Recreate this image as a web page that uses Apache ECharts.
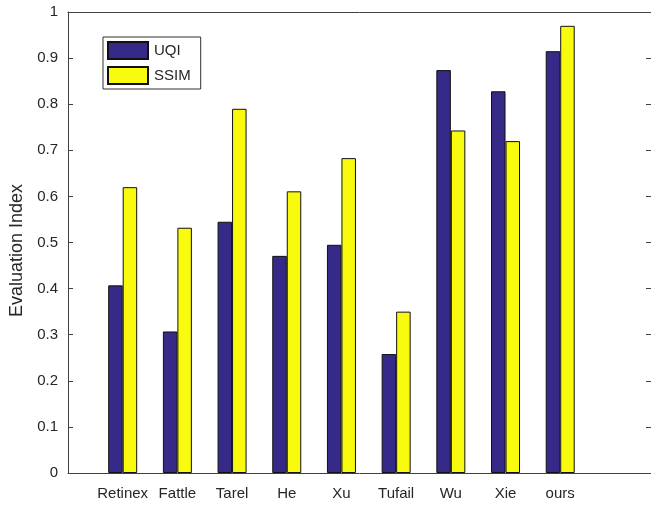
<!DOCTYPE html>
<html>
<head>
<meta charset="utf-8">
<script src="https://cdn.jsdelivr.net/npm/echarts@6/dist/echarts.min.js"></script>
<style>
  html, body { margin: 0; padding: 0; background: #fff; }
  #chart { width: 651px; height: 506px; }
</style>
</head>
<body>
<div id="chart"></div>
<script>
// Methods compared, in plotting order
const methods = ['Retinex', 'Fattle', 'Tarel', 'He', 'Xu', 'Tufail', 'Wu', 'Xie', 'ours'];
// Universal Quality Index per method
const uqi = [0.407, 0.307, 0.545, 0.471, 0.495, 0.258, 0.874, 0.828, 0.915];
// Structural similarity per method
const ssim = [0.620, 0.532, 0.790, 0.611, 0.683, 0.350, 0.743, 0.720, 0.970];
// Y tick values
const yTicks = [0, 0.1, 0.2, 0.3, 0.4, 0.5, 0.6, 0.7, 0.8, 0.9, 1];

const frame = '#404040';
const textColor = '#262626';
const font = 'Liberation Sans, Arial, sans-serif';

const chart = echarts.init(document.getElementById('chart'));

const toPairs = vals => vals.map((v, i) => [i + 1, v]);

chart.setOption({
  animation: false,
  grid: { left: 68, right: 0, top: 12, bottom: 33 },
  legend: {
    orient: 'vertical',
    left: 103,
    top: 37,
    padding: [4, 10, 4, 4],
    itemWidth: 40,
    itemHeight: 17,
    itemGap: 6,
    borderColor: '#333',
    borderWidth: 1,
    backgroundColor: '#fff',
    textStyle: { fontFamily: font, fontSize: 15, color: textColor, padding: [0, 0, 0, 1] },
    data: ['UQI', 'SSIM'],
    icon: 'rect'
  },
  xAxis: [
    {
      type: 'value',
      min: 0,
      max: 10.66,
      interval: 1,
      axisLine: { show: true, lineStyle: { color: frame, width: 1 } },
      axisTick: { show: false },
      splitLine: { show: false },
      axisLabel: {
        showMaxLabel: false,
        showMinLabel: false,
        margin: 13,
        fontFamily: font,
        fontSize: 15,
        color: textColor,
        formatter: v => {
          const i = Math.round(v) - 1;
          return (i >= 0 && i < methods.length && Math.abs(v - i - 1) < 1e-6) ? methods[i] : '';
        }
      }
    },
    {
      type: 'value',
      position: 'top',
      min: 0,
      max: 10.66,
      axisLine: { show: true, onZero: false, lineStyle: { color: frame, width: 1 } },
      axisTick: { show: false },
      axisLabel: { show: false },
      splitLine: { show: false }
    }
  ],
  yAxis: [
    {
      type: 'value',
      min: 0,
      max: 1,
      interval: 0.1,
      name: 'Evaluation Index',
      nameLocation: 'middle',
      nameGap: 42,
      nameTextStyle: { fontFamily: font, fontSize: 18, color: textColor, padding: [0, 16, 0, 0] },
      axisLine: { show: true, lineStyle: { color: frame, width: 1 } },
      axisTick: { show: true, inside: true, length: 5, lineStyle: { color: frame } },
      splitLine: { show: false },
      axisLabel: {
        margin: 10,
        fontFamily: font,
        fontSize: 15,
        color: textColor,
        formatter: v => {
          const t = yTicks.find(k => Math.abs(k - v) < 1e-6);
          return t === undefined ? '' : String(t);
        }
      }
    },
    {
      type: 'value',
      position: 'right',
      min: 0,
      max: 1,
      interval: 0.1,
      axisLine: { show: true, onZero: false, lineStyle: { color: frame, width: 1 } },
      axisTick: { show: true, inside: true, length: 5, lineStyle: { color: frame } },
      axisLabel: { show: false },
      splitLine: { show: false }
    }
  ],
  series: [
    {
      name: 'UQI',
      type: 'bar',
      barWidth: 14.5,
      barGap: '0%',
      data: toPairs(uqi),
      itemStyle: { color: '#352a87', borderColor: '#111', borderWidth: 1 }
    },
    {
      name: 'SSIM',
      type: 'bar',
      barWidth: 14.5,
      barGap: '0%',
      data: toPairs(ssim),
      itemStyle: { color: '#f9fb0e', borderColor: '#111', borderWidth: 1 }
    }
  ]
});
</script>
</body>
</html>
